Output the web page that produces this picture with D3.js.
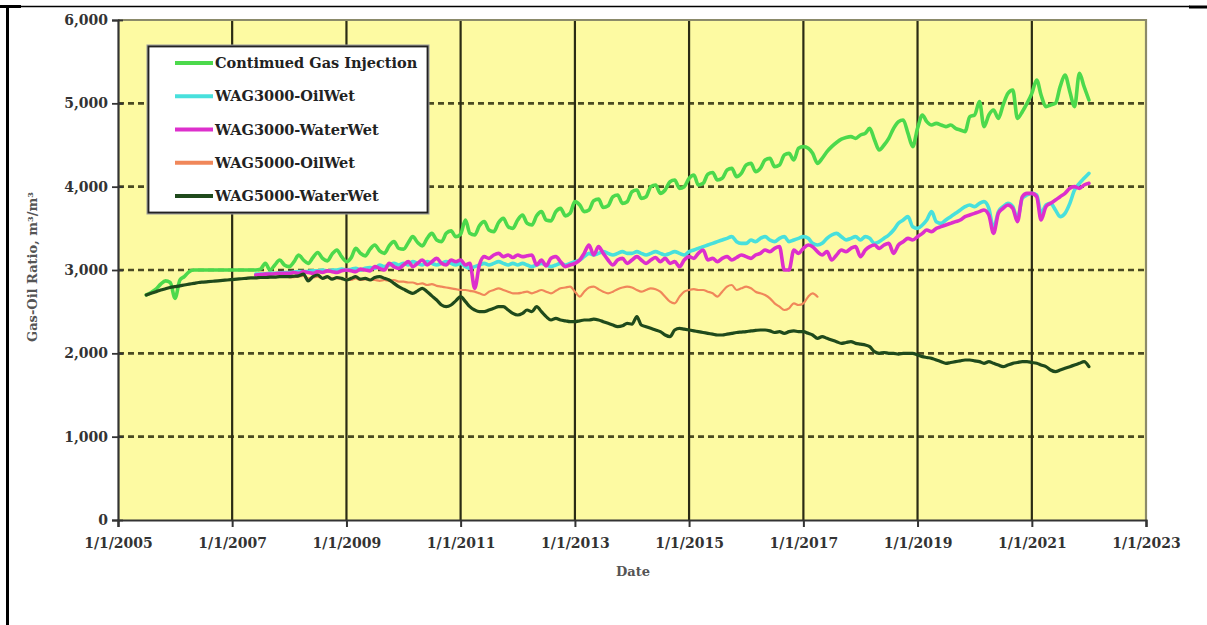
<!DOCTYPE html>
<html>
<head>
<meta charset="utf-8">
<script src="https://cdn.jsdelivr.net/npm/d3@7"></script>
<style>
  html, body { margin: 0; padding: 0; background: #ffffff; }
  svg { display: block; }
  text { font-family: "DejaVu Serif", "Liberation Serif", serif; font-weight: bold; }
</style>
</head>
<body>
<svg id="chart" width="1207" height="625"></svg>
<script>
// ---- Axis ticks ----
const yTicks = [0, 1000, 2000, 3000, 4000, 5000, 6000];
const xTickYears = [2005, 2007, 2009, 2011, 2013, 2015, 2017, 2019, 2021, 2023];

// ---- Series names ----
const seriesNames = [
  "Contimued Gas Injection",
  "WAG3000-OilWet",
  "WAG3000-WaterWet",
  "WAG5000-OilWet",
  "WAG5000-WaterWet"
];

// ---- Monthly gas-oil ratio (m3/m3), one row per year ----
const gasStart = "2005-07";
const gasGOR = [
  2700, 2730, 2770, 2830, 2870, 2850,
  2660, 2880, 2920, 2980, 3000, 3000, 3000, 3000, 3000, 3000, 3000, 3000,
  3000, 3000, 3000, 3000, 3000, 3000, 3010, 3080, 3000, 3060, 3120, 3060,
  3040, 3100, 3180, 3120, 3080, 3150, 3210, 3140, 3110, 3190, 3240, 3160,
  3100, 3150, 3260, 3200, 3170, 3250, 3300, 3230, 3200, 3290, 3340, 3260,
  3250, 3330, 3400, 3330, 3290, 3380, 3440, 3360, 3340, 3440, 3470, 3400,
  3430, 3600, 3440, 3420, 3530, 3580, 3480, 3460, 3570, 3620, 3520, 3500,
  3600, 3660, 3560, 3540, 3650, 3700, 3600, 3590, 3700, 3740, 3650, 3680,
  3820, 3780, 3700, 3720, 3830, 3850, 3750, 3770, 3880, 3900, 3800, 3820,
  3940, 3960, 3860, 3880, 4000, 4020, 3920, 3960, 4060, 4080, 3980, 4000,
  4100, 4140, 4020, 4040, 4150, 4170, 4080, 4100, 4200, 4220, 4120, 4160,
  4260, 4280, 4180, 4220, 4320, 4340, 4240, 4260, 4380, 4400, 4320, 4460,
  4480, 4460, 4400, 4280, 4340, 4420, 4480, 4530, 4570, 4590, 4600, 4580,
  4620, 4640, 4700, 4560, 4440, 4500, 4580, 4700, 4780, 4800, 4640, 4480,
  4700, 4860, 4780, 4740, 4760, 4740, 4720, 4740, 4700, 4680, 4660, 4840,
  4860, 5020, 4720, 4860, 4920, 4820, 4980, 5120, 5160, 4820, 4900, 5000,
  5120, 5280, 5100, 4960, 4980, 5000, 5200, 5340, 5140, 4960, 5360, 5200,
  5040
];

const wag3000OilStart = "2007-06";
const wag3000OilGOR = [
  2950, 2950, 2955, 2960, 2960, 2965, 2970,
  2970, 2975, 2980, 2980, 2985, 2990, 2990, 3000, 2990, 3000, 3000, 3010,
  3000, 3010, 3020, 3000, 3020, 3030, 3020, 3060, 3040, 3060, 3080, 3060,
  3080, 3060, 3100, 3080, 3060, 3100, 3080, 3060, 3080, 3100, 3080, 3060,
  3080, 3040, 3020, 3040, 3060, 3080, 3060, 3080, 3100, 3080, 3060, 3080,
  3060, 3080, 3060, 3040, 3060, 3080, 3060, 3040, 3060, 3080, 3060, 3080,
  3100, 3120, 3160, 3200, 3180, 3200, 3220, 3200, 3180, 3200, 3220, 3200,
  3200, 3220, 3200, 3180, 3200, 3220, 3200, 3180, 3200, 3220, 3200, 3180,
  3220, 3240, 3260, 3280, 3300, 3320, 3340, 3360, 3380, 3400, 3340, 3320,
  3320, 3360, 3340, 3380, 3400, 3360, 3340, 3380, 3400, 3340, 3360, 3380,
  3400, 3380, 3320, 3300, 3320, 3380, 3420, 3440, 3400, 3360, 3380, 3400,
  3360, 3400, 3380, 3320, 3340, 3380, 3420, 3480, 3560, 3600, 3640, 3520,
  3500, 3540, 3600, 3700, 3580, 3560, 3600, 3640, 3680, 3720, 3760, 3780,
  3760, 3800, 3820, 3740, 3500, 3700, 3760, 3800, 3760, 3620, 3860, 3900,
  3920, 3900, 3680, 3780, 3800, 3720, 3640, 3680, 3800, 3960, 4040, 4100,
  4160
];

const wag3000WaterStart = "2007-06";
const wag3000WaterGOR = [
  2940, 2945, 2950, 2950, 2955, 2960, 2960,
  2960, 2970, 2960, 2980, 2970, 2960, 2980, 2970, 2990, 2980, 2970, 2990,
  3000, 2990, 2980, 3010, 3000, 2990, 3040, 3020, 3000, 3080, 3040, 3020,
  3060, 3100, 3040, 3080, 3120, 3060, 3100, 3140, 3080, 3060, 3120, 3100,
  3120, 3060, 3080, 2780, 3060, 3160, 3140, 3180, 3200, 3160, 3180, 3150,
  3180, 3160, 3170, 3180, 3060, 3120, 3050, 3140, 3160, 3100, 3040, 3060,
  3080, 3120, 3200, 3300, 3180, 3280, 3200, 3120, 3060, 3120, 3140, 3080,
  3120, 3160, 3120, 3080, 3120, 3150, 3100, 3140, 3080, 3100, 3040, 3120,
  3160, 3140, 3200, 3240, 3120, 3140, 3100, 3140, 3160, 3120, 3150, 3180,
  3160, 3140, 3180, 3200, 3240, 3220, 3260, 3280, 3000, 3000, 3240, 3200,
  3260, 3300, 3280, 3220, 3180, 3220, 3120, 3180, 3240, 3220, 3260, 3280,
  3160, 3240, 3280, 3300, 3260, 3300, 3320, 3200, 3300, 3340, 3380, 3360,
  3400, 3440, 3480, 3460, 3500, 3520, 3540, 3560, 3580, 3600, 3640, 3660,
  3680, 3700, 3720, 3660, 3440, 3680, 3740, 3780, 3740, 3580, 3880, 3920,
  3920, 3880, 3600, 3760, 3800, 3840, 3880, 3920, 3980, 4000, 3980, 4020,
  4040
];

const wag5000OilStart = "2008-01";
const wag5000OilGOR = [
  2910, 2915, 2920, 2930, 2900, 2910, 2920, 2900, 2910, 2900, 2900, 2890,
  2890, 2880, 2900, 2880, 2890, 2880, 2880, 2870, 2880, 2870, 2880, 2860,
  2860, 2850, 2850, 2830, 2840, 2820, 2830, 2810, 2800, 2790, 2780, 2770,
  2760, 2760, 2750, 2740, 2720, 2700, 2740, 2760, 2780, 2760, 2740, 2720,
  2720, 2730, 2740, 2720, 2740, 2760, 2740, 2720, 2750, 2780, 2790, 2800,
  2740, 2680, 2740, 2790, 2800, 2770, 2740, 2720, 2740, 2770, 2790, 2800,
  2790, 2760, 2740, 2760, 2780, 2770, 2740, 2680, 2620, 2600, 2680, 2740,
  2760, 2770, 2760, 2760, 2740, 2720, 2680, 2740, 2800, 2820, 2760, 2780,
  2800, 2780, 2740, 2720, 2700, 2660, 2600, 2560, 2520, 2540, 2600, 2580,
  2600, 2680, 2720, 2680
];

const wag5000WaterStart = "2005-07";
const wag5000WaterGOR = [
  2700, 2720, 2740, 2760, 2775, 2790,
  2800, 2810, 2820, 2830, 2840, 2850, 2855, 2860, 2865, 2870, 2875, 2880,
  2885, 2890, 2895, 2900, 2905, 2905, 2910, 2910, 2915, 2915, 2920, 2920,
  2920, 2925, 2930, 2950, 2870, 2920, 2940, 2900, 2920, 2890, 2910, 2900,
  2880, 2900, 2920, 2890, 2900, 2880, 2910, 2920, 2900, 2880, 2840, 2800,
  2770, 2740, 2720, 2750, 2780, 2740, 2690, 2640, 2580, 2560, 2580, 2630,
  2680, 2620, 2560, 2520, 2500, 2500, 2520, 2540, 2560, 2560, 2520, 2480,
  2460, 2480, 2520, 2500, 2560, 2500, 2440, 2400, 2420, 2400, 2390, 2380,
  2380, 2390, 2400, 2400, 2410, 2400, 2380, 2360, 2340, 2320, 2330, 2360,
  2350, 2440, 2340, 2320, 2300, 2280, 2260, 2220, 2200, 2280, 2300, 2290,
  2280, 2270, 2260, 2250, 2240, 2230, 2220, 2220, 2230, 2240, 2250, 2255,
  2260, 2270, 2275, 2280, 2280, 2270, 2250, 2260, 2240, 2260, 2270, 2260,
  2260, 2240, 2220, 2180, 2200, 2180, 2160, 2140, 2120, 2130, 2140, 2120,
  2110, 2100, 2080, 2020, 2000, 2010, 2000, 2000, 1990, 2000, 2000, 2000,
  1980, 1960, 1950, 1940, 1920, 1900, 1880, 1890, 1900, 1910, 1920, 1920,
  1910, 1900, 1880, 1900, 1880, 1860, 1840, 1860, 1880, 1890, 1900, 1900,
  1890, 1880, 1860, 1840, 1800, 1780, 1800, 1820, 1840, 1860, 1880, 1900,
  1840
];

// ---- Styling per series ----
const seriesColors = ["#4cd94c", "#48e0dc", "#dd2fcc", "#f0875a", "#1f4a1c"];
const seriesWidths = [3.6, 3.6, 3.6, 2.2, 3.2];

const parseMonth = d3.timeParse("%Y-%m");
function monthly(start, values) {
  const t0 = parseMonth(start);
  return values.map((v, i) => ({ date: d3.timeMonth.offset(t0, i), value: v }));
}

const series = [
  monthly(gasStart, gasGOR),
  monthly(wag3000OilStart, wag3000OilGOR),
  monthly(wag3000WaterStart, wag3000WaterGOR),
  monthly(wag5000OilStart, wag5000OilGOR),
  monthly(wag5000WaterStart, wag5000WaterGOR)
].map((pts, i) => ({ name: seriesNames[i], color: seriesColors[i], width: seriesWidths[i], points: pts }));

// ---- Layout ----
const svg = d3.select("#chart");
const plot = { left: 118, right: 1146, top: 20, bottom: 520 };

const x = d3.scaleTime()
  .domain([new Date(2005, 0, 1), new Date(2023, 0, 1)])
  .range([plot.left, plot.right]);
const y = d3.scaleLinear().domain([0, 6000]).range([plot.bottom, plot.top]);
const xTicks = xTickYears.map(yr => new Date(yr, 0, 1));

// page frame lines
const frame = svg.append("g").attr("stroke", "#000");
frame.append("line").attr("x1", 7).attr("x2", 1190).attr("y1", 6.5).attr("y2", 6.5).attr("stroke-width", 1.4);
frame.append("line").attr("x1", 0).attr("x2", 21).attr("y1", 6.5).attr("y2", 6.5).attr("stroke-width", 3);
frame.append("line").attr("x1", 1189).attr("x2", 1207).attr("y1", 7).attr("y2", 7).attr("stroke-width", 3);
frame.append("line").attr("x1", 7.5).attr("x2", 7.5).attr("y1", 5).attr("y2", 625).attr("stroke-width", 3);

// plot background
svg.append("rect")
  .attr("x", plot.left).attr("y", plot.top)
  .attr("width", plot.right - plot.left).attr("height", plot.bottom - plot.top)
  .attr("fill", "#fdfaa2");

// horizontal dashed gridlines
svg.append("g").selectAll("line")
  .data(yTicks.filter(v => v > 0 && v < 6000))
  .join("line")
  .attr("x1", plot.left).attr("x2", plot.right)
  .attr("y1", d => y(d)).attr("y2", d => y(d))
  .attr("stroke", "#4a4a22").attr("stroke-width", 2.6)
  .attr("stroke-dasharray", "6,4");

// vertical solid gridlines
svg.append("g").selectAll("line")
  .data(xTicks.slice(1, -1))
  .join("line")
  .attr("x1", d => x(d)).attr("x2", d => x(d))
  .attr("y1", plot.top).attr("y2", plot.bottom)
  .attr("stroke", "#2b2b14").attr("stroke-width", 2.2);

// plot border (top and right)
svg.append("path")
  .attr("d", `M${plot.left},${plot.top}H${plot.right}V${plot.bottom}`)
  .attr("fill", "none").attr("stroke", "#8b8a6a").attr("stroke-width", 2.2);

// series lines
const line = d3.line()
  .x(d => x(d.date))
  .y(d => y(d.value))
  .curve(d3.curveMonotoneX);

svg.append("g").selectAll("path")
  .data(series)
  .join("path")
  .attr("d", d => line(d.points))
  .attr("fill", "none")
  .attr("stroke", d => d.color)
  .attr("stroke-width", d => d.width)
  .attr("stroke-linejoin", "round")
  .attr("stroke-linecap", "round");

// y axis
const yAxis = svg.append("g")
  .attr("transform", `translate(${plot.left},0)`)
  .call(d3.axisLeft(y).tickValues(yTicks).tickFormat(d3.format(",")).tickSize(6).tickPadding(4));
yAxis.select(".domain").attr("stroke", "#333").attr("stroke-width", 2.2);
yAxis.selectAll(".tick line").attr("x1", 5).attr("stroke", "#333").attr("stroke-width", 1.8);
yAxis.selectAll(".tick text")
  .attr("fill", "#333").attr("font-size", 14)
  .attr("font-family", "DejaVu Serif").attr("font-weight", "bold");

// x axis
const xAxis = svg.append("g")
  .attr("transform", `translate(0,${plot.bottom})`)
  .call(d3.axisBottom(x).tickValues(xTicks).tickFormat(d3.timeFormat("%-m/%-d/%Y")).tickSize(7).tickPadding(11));
xAxis.select(".domain").attr("stroke", "#333").attr("stroke-width", 2.2);
xAxis.selectAll(".tick line").attr("stroke", "#333").attr("stroke-width", 2);
xAxis.selectAll(".tick text")
  .attr("fill", "#333").attr("font-size", 14)
  .attr("font-family", "DejaVu Serif").attr("font-weight", "bold");

// axis titles
svg.append("text")
  .attr("transform", "translate(37,267) rotate(-90)")
  .attr("text-anchor", "middle")
  .attr("font-size", 13).attr("fill", "#555")
  .text("Gas-Oil Ratio, m³/m³");

svg.append("text")
  .attr("x", 633).attr("y", 576)
  .attr("text-anchor", "middle")
  .attr("font-size", 13).attr("fill", "#555")
  .text("Date");

// legend
const legend = svg.append("g");
legend.append("rect")
  .attr("x", 148.5).attr("y", 46.5).attr("width", 279).attr("height", 166)
  .attr("fill", "#fff").attr("stroke", "#999").attr("stroke-width", 4);
legend.append("rect")
  .attr("x", 148.5).attr("y", 46.5).attr("width", 279).attr("height", 166)
  .attr("fill", "#fff").attr("stroke", "#222").attr("stroke-width", 1.8);

const rowY = d3.scalePoint().domain(seriesNames).range([63, 196]);
const rows = legend.selectAll("g.row")
  .data(series)
  .join("g").attr("class", "row")
  .attr("transform", d => `translate(0,${rowY(d.name)})`);
rows.append("line")
  .attr("x1", 175).attr("x2", 213)
  .attr("stroke", d => d.color).attr("stroke-width", 4);
rows.append("text")
  .attr("x", 215).attr("dy", "0.36em")
  .attr("font-size", 14.5).attr("fill", "#222")
  .text(d => d.name);
</script>
</body>
</html>
